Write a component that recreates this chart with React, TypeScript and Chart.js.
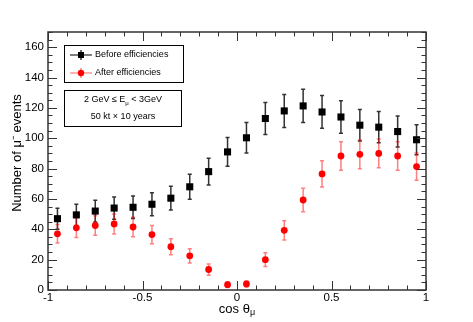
import React, { useEffect, useRef } from "react";
import { Chart, registerables } from "chart.js";

Chart.register(...registerables);

const cosTheta = [-0.95, -0.85, -0.75, -0.65, -0.55, -0.45, -0.35, -0.25, -0.15, -0.05, 0.05, 0.15, 0.25, 0.35, 0.45, 0.55, 0.65, 0.75, 0.85, 0.95];
const beforeEff = [47, 49.5, 52, 54, 54.5, 56.5, 60.5, 68, 78, 91, 100.3, 113, 118, 121.3, 117.3, 114, 108.6, 107.3, 104.4, 99];
const beforeErr = [6.9, 7.0, 7.2, 7.3, 7.4, 7.5, 7.8, 8.2, 8.8, 9.5, 10.0, 10.6, 10.9, 11.0, 10.8, 10.7, 10.4, 10.3, 10.2, 9.9];
const afterEff = [37, 41, 42.5, 43.5, 41.5, 36.5, 28.5, 22.5, 13.5, 3.5, 4, 20, 39.3, 59.3, 76.5, 88.3, 89.4, 90, 88.3, 81.3];
const afterErr = [6.1, 6.4, 6.5, 6.6, 6.4, 6.0, 5.3, 4.7, 3.7, 1.9, 2.0, 4.5, 6.3, 7.7, 8.7, 9.4, 9.5, 9.5, 9.4, 9.0];

const xTickLabels = [-1, -0.5, 0, 0.5, 1];
const yTickLabels = [0, 20, 40, 60, 80, 100, 120, 140, 160];

const FONT = "'Liberation Sans', Arial, sans-serif";

const framePlugin = {
  id: "rootFrame",
  beforeDatasetsDraw(chart: any) {
    const { ctx } = chart;
    const xs = chart.scales.x;
    const ys = chart.scales.y;
    const drawErr = (vals: number[], errs: number[], color: string) => {
      ctx.save();
      ctx.strokeStyle = color;
      ctx.lineWidth = 1.5;
      vals.forEach((v, i) => {
        const px = xs.getPixelForValue(cosTheta[i]);
        const y1 = ys.getPixelForValue(v - errs[i]);
        const y2 = ys.getPixelForValue(v + errs[i]);
        ctx.beginPath();
        ctx.moveTo(px, y1);
        ctx.lineTo(px, y2);
        ctx.moveTo(px - 2, y1);
        ctx.lineTo(px + 2, y1);
        ctx.moveTo(px - 2, y2);
        ctx.lineTo(px + 2, y2);
        ctx.stroke();
      });
      ctx.restore();
    };
    drawErr(beforeEff, beforeErr, "#333333");
    drawErr(afterEff, afterErr, "rgba(255,0,0,0.5)");
  },
  afterDraw(chart: any) {
    const { ctx, chartArea } = chart;
    const { left, right, top, bottom } = chartArea;
    const xs = chart.scales.x;
    const ys = chart.scales.y;
    ctx.save();
    ctx.strokeStyle = "#333";
    ctx.lineWidth = 1.5;
    ctx.strokeRect(left, top, right - left, bottom - top);
    ctx.beginPath();
    // x ticks
    for (let k = -10; k <= 10; k++) {
      const v = k / 10;
      const px = Math.round(xs.getPixelForValue(v)) + 0.5;
      const len = k % 5 === 0 ? 9 : 4.5;
      ctx.moveTo(px, bottom);
      ctx.lineTo(px, bottom - len);
      ctx.moveTo(px, top);
      ctx.lineTo(px, top + len);
    }
    // y ticks
    for (let v = 0; v <= 170; v += 5) {
      const py = Math.round(ys.getPixelForValue(v)) + 0.5;
      const len = v % 20 === 0 ? 9 : 4.5;
      ctx.moveTo(left, py);
      ctx.lineTo(left + len, py);
      ctx.moveTo(right, py);
      ctx.lineTo(right - len, py);
    }
    ctx.lineWidth = 1;
    ctx.stroke();

    // tick labels
    ctx.fillStyle = "#000";
    ctx.font = `11.5px ${FONT}`;
    ctx.textAlign = "right";
    ctx.textBaseline = "middle";
    yTickLabels.forEach((v) => {
      ctx.fillText(String(v), left - 4, ys.getPixelForValue(v));
    });
    ctx.textAlign = "center";
    ctx.textBaseline = "middle";
    xTickLabels.forEach((v) => {
      ctx.fillText(String(v), xs.getPixelForValue(v), bottom + 8);
    });

    // x title
    ctx.font = `13px ${FONT}`;
    ctx.textAlign = "left";
    ctx.textBaseline = "middle";
    const t1 = "cos θ";
    const w1 = ctx.measureText(t1).width;
    ctx.font = `9px ${FONT}`;
    const w2 = ctx.measureText("μ").width;
    const tx = (left + right) / 2 - (w1 + w2) / 2;
    ctx.font = `13px ${FONT}`;
    ctx.fillText(t1, tx, bottom + 19);
    ctx.font = `9px ${FONT}`;
    ctx.fillText("μ", tx + w1, bottom + 23);

    // y title
    ctx.save();
    ctx.translate(17, (top + bottom) / 2 - 8);
    ctx.rotate(-Math.PI / 2);
    ctx.font = `13px ${FONT}`;
    ctx.textAlign = "center";
    ctx.fillText("Number of μ⁻ events", 0, 0);
    ctx.restore();

    // legend box
    ctx.lineWidth = 1;
    ctx.strokeStyle = "#000";
    ctx.strokeRect(64.5, 45.5, 119, 37);
    const legendRows = [
      { y: 55, label: "Before efficiencies", color: "#000", line: "#000", style: "rect" },
      { y: 73, label: "After efficiencies", color: "#ff0000", line: "rgba(255,0,0,0.6)", style: "circle" },
    ];
    legendRows.forEach((r) => {
      ctx.strokeStyle = r.line;
      ctx.lineWidth = 1.2;
      ctx.beginPath();
      ctx.moveTo(70, r.y);
      ctx.lineTo(92, r.y);
      ctx.moveTo(81, r.y - 5);
      ctx.lineTo(81, r.y + 5);
      ctx.stroke();
      ctx.fillStyle = r.color;
      if (r.style === "rect") {
        ctx.fillRect(78, r.y - 3, 6, 6);
      } else {
        ctx.beginPath();
        ctx.arc(81, r.y, 3.2, 0, Math.PI * 2);
        ctx.fill();
      }
      ctx.fillStyle = "#000";
      ctx.font = `9px ${FONT}`;
      ctx.textAlign = "left";
      ctx.textBaseline = "middle";
      ctx.fillText(r.label, 95, r.y);
    });

    // info box
    ctx.strokeStyle = "#000";
    ctx.lineWidth = 1;
    ctx.strokeRect(64.5, 90.5, 117, 36);
    const cx = 64.5 + 117 / 2;
    ctx.font = `9px ${FONT}`;
    ctx.textBaseline = "middle";
    const a = "2 GeV ≤ E";
    const b = " < 3GeV";
    const wa = ctx.measureText(a).width;
    const wb = ctx.measureText(b).width;
    ctx.font = `6px ${FONT}`;
    const ws = ctx.measureText("μ").width;
    const sx = cx - (wa + wb + ws) / 2;
    ctx.textAlign = "left";
    ctx.font = `9px ${FONT}`;
    ctx.fillText(a, sx, 100);
    ctx.fillText(b, sx + wa + ws, 100);
    ctx.font = `6px ${FONT}`;
    ctx.fillText("μ", sx + wa, 103);
    ctx.font = `9px ${FONT}`;
    ctx.textAlign = "center";
    ctx.fillText("50 kt × 10 years", cx, 117);
    ctx.restore();
  },
};

export default function App() {
  const ref = useRef<HTMLCanvasElement>(null);
  useEffect(() => {
    if (!ref.current) return;
    const chart = new Chart(ref.current, {
      type: "scatter",
      data: {
        datasets: [
          {
            label: "Before efficiencies",
            data: cosTheta.map((x, i) => ({ x, y: beforeEff[i] })),
            pointStyle: "rect",
            pointRadius: 5,
            backgroundColor: "#000",
            borderColor: "#000",
            borderWidth: 0,
          },
          {
            label: "After efficiencies",
            data: cosTheta.map((x, i) => ({ x, y: afterEff[i] })),
            pointStyle: "circle",
            pointRadius: 3.4,
            backgroundColor: "#ff0000",
            borderColor: "#ff0000",
            borderWidth: 0,
          },
        ],
      },
      options: {
        responsive: false,
        animation: false,
        layout: { padding: { left: 48, right: 47, top: 32, bottom: 32 } },
        plugins: { legend: { display: false }, tooltip: { enabled: false } },
        scales: {
          x: { type: "linear", min: -1, max: 1, display: false },
          y: { type: "linear", min: 0, max: 170, display: false },
        },
      },
      plugins: [framePlugin],
    });
    return () => chart.destroy();
  }, []);
  return (
    <div style={{ position: "fixed", left: 0, top: 0, width: 473, height: 322, background: "#fff" }}>
      <canvas ref={ref} width={473} height={322} style={{ display: "block" }} />
    </div>
  );
}
